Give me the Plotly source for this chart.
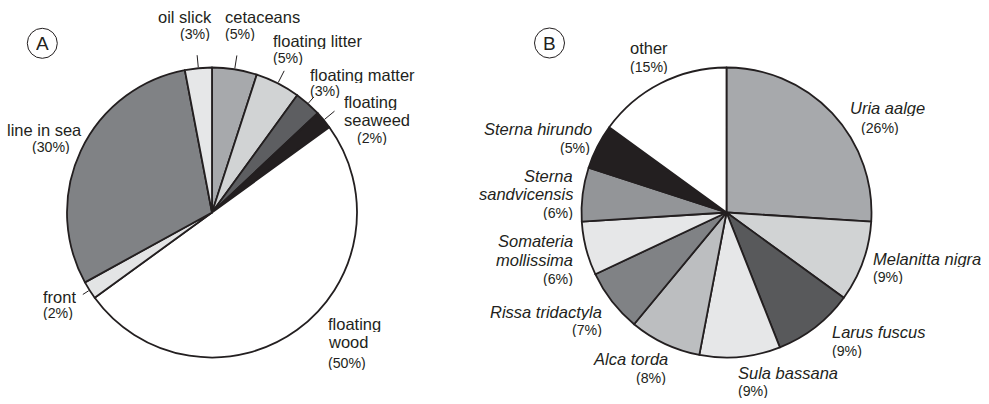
import math
import plotly.graph_objects as go

W, H = 989, 404

# ---------------- data ----------------
A_labels = ["cetaceans", "floating litter", "floating matter", "floating seaweed",
            "floating wood", "front", "line in sea", "oil slick"]
A_values = [5, 5, 3, 2, 50, 2, 30, 3]
A_colors = ["#a7a9ac", "#d1d3d4", "#5d5e61", "#231f20", "#ffffff",
            "#e3e4e5", "#808285", "#e6e7e8"]

B_labels = ["Uria aalge", "Melanitta nigra", "Larus fuscus", "Sula bassana",
            "Alca torda", "Rissa tridactyla", "Somateria mollissima",
            "Sterna sandvicensis", "Sterna hirundo", "other"]
B_values = [26, 9, 9, 9, 8, 7, 6, 6, 5, 15]
B_colors = ["#a7a9ac", "#d1d3d4", "#58595b", "#e6e7e8", "#bcbec0",
            "#808285", "#e6e7e8", "#939598", "#231f20", "#ffffff"]
B_italic = [True] * 9 + [False]

# ---------------- layout (pixels) ----------------
R = 145
A_center = (212, 212.5)
B_center = (726.5, 212.5)

# label line layout: name lines + position of each line (x, y), anchor
A_label_layout = {
    "cetaceans":        (["cetaceans"], [(225, 17), (225, 34.5)], "left"),
    "floating litter":  (["floating litter"], [(273.3, 41), (273.3, 58)], "left"),
    "floating matter":  (["floating matter"], [(309.5, 75), (309.5, 91.5)], "left"),
    "floating seaweed": (["floating", "seaweed"], [(344, 102), (344, 120), (357, 138)], "left"),
    "floating wood":    (["floating", "wood"], [(328.3, 324), (328.3, 341.7), (328.3, 362.7)], "left"),
    "front":            (["front"], [(42.7, 296.7), (42.7, 313.3)], "left"),
    "line in sea":      (["line in sea"], [(7.3, 130), (31.7, 146.7)], "left"),
    "oil slick":        (["oil slick"], [(158.3, 17), (180, 34.5)], "left"),
}
A_leaders = {"oil slick": 13, "cetaceans": 14, "floating litter": 14,
             "floating matter": 9, "floating seaweed": 14, "front": 8}

B_label_layout = {
    "Uria aalge":           (["Uria aalge"], [(849.6, 108.3), (861.3, 127.7)], "left"),
    "Melanitta nigra":      (["Melanitta nigra"], [(873, 259), (873, 276.7)], "left"),
    "Larus fuscus":         (["Larus fuscus"], [(832.1, 331.7), (832.1, 350.7)], "left"),
    "Sula bassana":         (["Sula bassana"], [(738.4, 372.7), (738.4, 391)], "left"),
    "Alca torda":           (["Alca torda"], [(668, 359.3), (666.2, 378.3)], "right"),
    "Rissa tridactyla":     (["Rissa tridactyla"], [(602.4, 311.7), (601.6, 330)], "right"),
    "Somateria mollissima": (["Somateria", "mollissima"], [(573.2, 240.7), (573.2, 260), (573.2, 279)], "right"),
    "Sterna sandvicensis":  (["Sterna", "sandvicensis"], [(573.2, 176), (573.2, 194.3), (573.2, 213.3)], "right"),
    "Sterna hirundo":       (["Sterna hirundo"], [(592.1, 129.3), (589.6, 147.7)], "right"),
    "other":                (["other"], [(629.7, 48.3), (629.7, 66.7)], "left"),
}

FONT = "Liberation Sans, Arial, Helvetica, sans-serif"
TXT = "#231f20"
NAME_SIZE = 16.5
PCT_SIZE = 14.2


def px(x):
    return x / W


def py(y):
    return 1 - y / H


def domain(center):
    cx, cy = center
    return dict(x=[px(cx - R), px(cx + R)], y=[py(cy + R), py(cy - R)])


fig = go.Figure()
for labels, values, colors, center in [(A_labels, A_values, A_colors, A_center),
                                       (B_labels, B_values, B_colors, B_center)]:
    fig.add_trace(go.Pie(
        labels=labels, values=values, sort=False, direction="clockwise",
        rotation=0, textinfo="none", hoverinfo="label+percent",
        marker=dict(colors=colors, line=dict(color="#231f20", width=1.8)),
        domain=domain(center), showlegend=False,
    ))

annotations = []
shapes = []


def add_labels(labels, values, layout, italic=None):
    for i, (lab, val) in enumerate(zip(labels, values)):
        lines, pos, anchor = layout[lab]
        texts = list(lines) + [f"({val}%)"]
        for j, (t, (x, y)) in enumerate(zip(texts, pos)):
            is_pct = j == len(texts) - 1
            if italic is not None and italic[i] and not is_pct:
                t = f"<i>{t}</i>"
            annotations.append(dict(
                x=px(x), y=py(y), xref="paper", yref="paper", text=t,
                showarrow=False, xanchor=anchor, yanchor="middle",
                height=14 if is_pct else 16, borderpad=0, borderwidth=0,
                font=dict(family=FONT, size=PCT_SIZE if is_pct else NAME_SIZE, color=TXT),
            ))


add_labels(A_labels, A_values, A_label_layout)
add_labels(B_labels, B_values, B_label_layout, B_italic)

# leader lines for pie A, at slice mid-angles
total = sum(A_values)
cum = 0
for lab, val in zip(A_labels, A_values):
    mid = (cum + val / 2) / total * 2 * math.pi
    cum += val
    if lab in A_leaders:
        L = A_leaders[lab]
        cx, cy = A_center
        x0, y0 = cx + (R + 1) * math.sin(mid), cy - (R + 1) * math.cos(mid)
        x1, y1 = cx + (R + L) * math.sin(mid), cy - (R + L) * math.cos(mid)
        shapes.append(dict(type="line", xref="paper", yref="paper",
                           x0=px(x0), y0=py(y0), x1=px(x1), y1=py(y1),
                           line=dict(color=TXT, width=1)))

# panel letters in circles
for letter, (cx, cy) in [("A", (42.3, 43.3)), ("B", (549.5, 43))]:
    r = 15
    shapes.append(dict(type="circle", xref="paper", yref="paper",
                       x0=px(cx - r), x1=px(cx + r), y0=py(cy + r), y1=py(cy - r),
                       line=dict(color=TXT, width=1)))
    annotations.append(dict(x=px(cx), y=py(cy), xref="paper", yref="paper",
                            text=letter, showarrow=False, xanchor="center",
                            yanchor="middle", height=20, borderpad=0,
                            font=dict(family=FONT, size=19, color=TXT)))

fig.update_layout(
    width=W, height=H, margin=dict(l=0, r=0, t=0, b=0),
    paper_bgcolor="white", plot_bgcolor="white",
    annotations=annotations, shapes=shapes,
)

# remove the default 8px page margin so the figure sits at the window's origin
fig.write_html(
    "out.html",
    config={"displayModeBar": False},
    post_script="document.body.style.margin='0';document.body.style.overflow='hidden';",
)
